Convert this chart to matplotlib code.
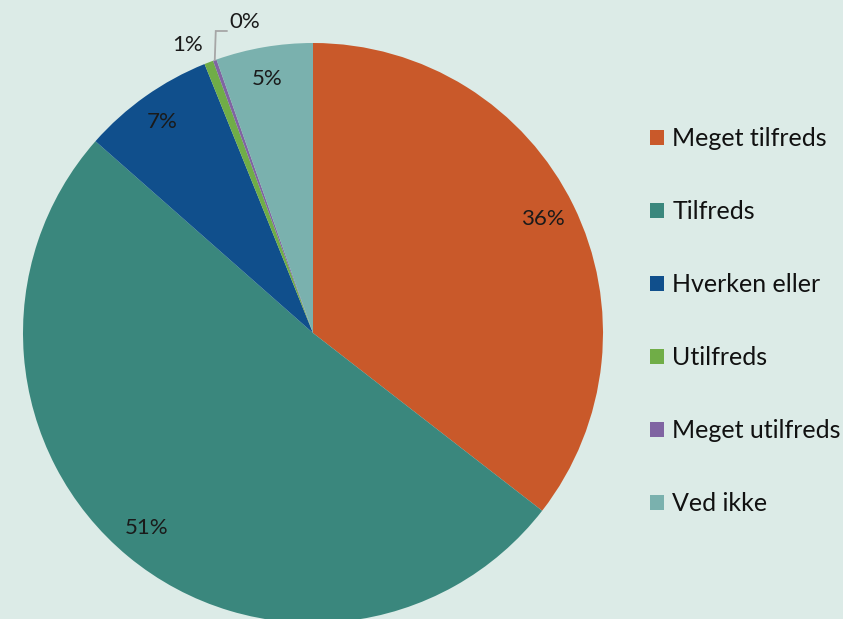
import matplotlib
matplotlib.use("Agg")
import matplotlib.pyplot as plt
import numpy as np
from matplotlib.patches import Patch

categories = ["Meget tilfreds", "Tilfreds", "Hverken eller", "Utilfreds", "Meget utilfreds", "Ved ikke"]
values = [35.5, 51.0, 7.4, 0.5, 0.2, 5.4]
labels = ["36%", "51%", "7%", "1%", "0%", "5%"]
colors = ["#C9592A", "#3A877D", "#104F8C", "#70AD47", "#8064A2", "#7AB1AE"]
bg = "#DCEBE7"

plt.rcParams['font.family'] = ['Lato', 'DejaVu Sans']

fig = plt.figure(figsize=(8.43, 6.19), dpi=100, facecolor=bg)
ax = fig.add_axes([0, 0, 1, 1])
ax.set_facecolor(bg)

cx, cy, R = 313, 619 - 333, 290
wedges, _ = ax.pie(values, colors=colors, startangle=90, counterclock=False,
                   center=(cx, cy), radius=R, frame=True,
                   wedgeprops=dict(linewidth=0))
ax.set_xlim(0, 843)
ax.set_ylim(0, 619)
ax.set_aspect('equal')
ax.axis('off')

tc = '#1a1a1a'
for i, (w, lab) in enumerate(zip(wedges, labels)):
    ang = np.deg2rad((w.theta1 + w.theta2) / 2)
    if i == 3:
        x, y = cx + 1.09 * R * np.cos(ang) - 12, cy + 1.0 * R * np.sin(ang) + 17
        ax.text(x, y, lab, ha='center', va='center', fontsize=16, color=tc)
    elif i == 4:
        px, py = cx + R * np.cos(ang), cy + R * np.sin(ang)
        ty = 619 - 31
        ax.plot([px, px + 1, px + 12], [py, ty, ty], color='#A6A6A6', lw=1.3,
                solid_joinstyle='miter')
        ax.text(245, 619 - 22, lab, ha='center', va='center', fontsize=16, color=tc)
    else:
        d = 0.89 * R
        dy = 4 if i == 1 else 0
        ax.text(cx + d * np.cos(ang) - 2, cy + d * np.sin(ang) + dy, lab, ha='center', va='center',
                fontsize=16, color=tc)

handles = [Patch(facecolor=c, edgecolor='none') for c in colors]
leg = ax.legend(handles, categories, loc='center left', bbox_to_anchor=(650 / 843, 298 / 619),
                frameon=False, fontsize=18, handlelength=0.55, handleheight=0.55,
                handletextpad=0.35, labelspacing=2.0, borderaxespad=0, borderpad=0)
for t in leg.get_texts():
    t.set_color('#111111')

fig.savefig("out.png", dpi=100, facecolor=bg)
